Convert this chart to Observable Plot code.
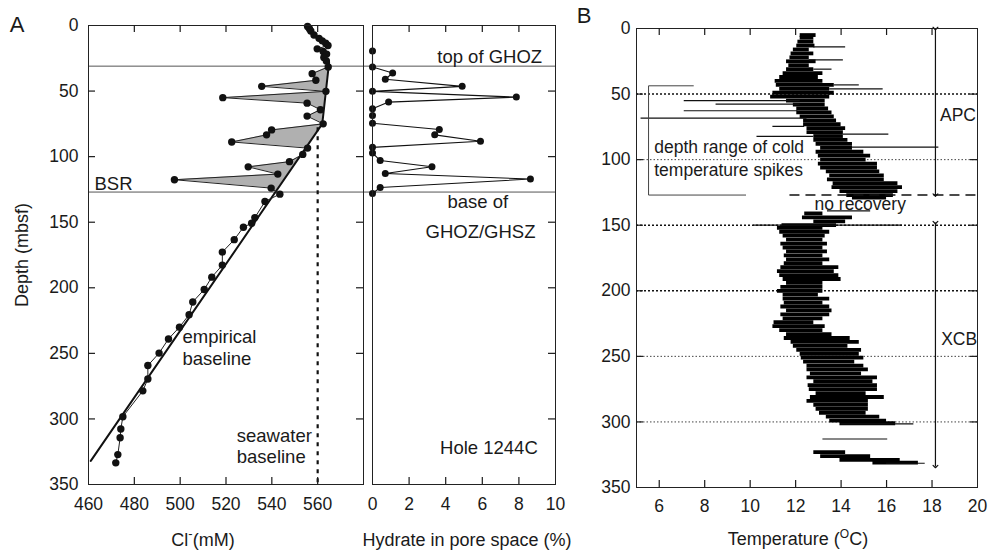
<!DOCTYPE html>
<html><head><meta charset="utf-8">
<script src="https://cdn.jsdelivr.net/npm/d3@7"></script>
<script src="https://cdn.jsdelivr.net/npm/@observablehq/plot@0.6"></script>
<style>
body{margin:0;background:#fff;}
#wrap{position:relative;width:990px;height:552px;overflow:hidden;font-family:"Liberation Sans",Arial,Helvetica,sans-serif;}
#wrap svg{position:absolute;top:0;}
</style></head><body><div id="wrap"></div>
<script>
// ---------- Panel A: chloride ----------
const clDepth = [0.8,2.5,4.2,7.2,9.8,11.7,13.5,15.2,17.8,19.8,21.8,24.4,27.0,
  31.6,36.7,41.8,46.4,50.2,55.0,59.2,64.2,69.1,75.0,79.6,83.4,88.8,93.5,98.3,103.8,107.8,113.3,117.6,124.0,128.6,
  134.2,146.5,150.8,153.8,163.3,172.8,182.7,191.9,201.3,210.8,220.5,230.0,239.0,249.8,259.3,269.5,278.6,298.3,307.7,314.4,327.2,333.5];
const clValue = [555.6,556.4,557.0,558.4,560.6,562.0,563.5,564.5,559.8,562.4,563.9,562.7,563.8,
  564.6,557.6,559.2,535.6,563.6,518.6,555.4,561.2,555.4,562.4,539.9,537.7,522.5,555.6,553.5,547.7,529.7,542.6,497.5,539.7,543.5,
  537.0,532.6,531.2,527.6,523.6,518.4,518.4,513.8,510.5,505.5,503.9,499.7,494.9,490.8,485.9,485.9,483.7,475.0,474.1,473.8,472.8,471.9];
const baseDepth = [28, 75, 332];
const baseCl = [565, 562, 461];
const seawaterCl = [560];
const seawaterDepth = [78, 350];
const ghozTop = 31, bsrDepth = 127;
const shadeRange = [31, 129];

// ---------- Hydrate panel ----------
const hydDepth = [19.4,31.6,36.2,41.0,46.4,50.2,54.6,58.4,63.5,68.6,74.5,79.3,83.4,88.3,92.9,97.2,103.0,107.7,112.8,117.1,123.5,128.1];
const hydValue = [0,0,1.1,0.7,4.9,0,7.86,0.88,0,0,0,3.65,3.4,5.9,0,0,0.42,3.25,0.7,8.63,0.42,0];

// ---------- Panel B: temperature (band edges read per depth) ----------
const tDepth = [5,7,10,13,16,19,22,25,28,31,34,37,40,43,46,49,52,55,58,61,64,67,70,73,76,79,82,85,88,91,94,97,100,103,106,109,112,115,118,121,124,127,129,
  141,144,147,150,152,155,158,161,164,167,170,173,176,179,182,185,188,191,194,197,200,203,206,209,212,215,218,221,224,227,230,233,236,239,242,245,248,251,254,257,260,263,266,269,272,275,278,281,284,287,290,293,296,299,301,
  323,326,329,331];
const tLo = [12.2,12.2,12.1,12.05,11.9,11.8,11.75,11.6,11.7,11.6,11.45,11.3,11.1,11.15,11.3,11.0,10.9,11.6,11.9,12.05,12.05,12.2,12.35,12.35,12.5,12.5,12.8,12.8,12.9,13.1,12.9,13.0,13.1,13.0,13.1,13.35,13.5,13.4,13.65,13.6,13.95,14.25,14.5,
  12.4,12.3,12.8,11.4,11.2,11.3,11.45,11.6,11.35,11.45,11.6,11.5,11.6,11.5,11.35,11.2,11.3,11.45,11.6,11.35,11.2,11.45,11.45,11.5,11.35,11.6,11.35,11.45,11.05,11.0,11.3,11.6,11.5,11.8,11.9,12.05,12.2,12.25,12.35,12.5,12.5,12.65,12.5,12.8,12.55,12.6,12.9,12.65,12.5,12.8,12.9,13.05,13.35,13.5,13.95,
  12.8,13.1,13.95,15.4];
const tHi = [12.9,12.8,12.8,12.85,12.6,12.8,12.6,12.9,12.6,12.8,13.2,13.0,13.2,13.7,13.5,13.7,13.5,13.3,13.3,13.45,13.6,13.7,13.8,14.0,14.2,14.1,14.1,14.3,14.5,14.5,15.0,15.3,15.1,15.6,15.6,15.7,15.9,15.9,16.5,16.7,16.5,16.3,16.0,
  13.2,14.5,14.2,13.8,13.2,13.5,13.3,13.2,13.4,13.2,13.4,13.2,13.5,13.2,13.9,13.7,13.9,14.0,13.2,13.2,13.2,13.0,13.5,13.2,13.5,13.6,13.5,13.2,12.8,13.3,13.2,13.6,14.4,14.8,14.3,14.9,14.8,15.0,14.6,15.0,15.2,14.9,15.6,15.4,15.6,15.6,15.1,15.9,15.2,15.2,15.2,15.1,15.7,16.0,16.4,
  14.2,15.3,16.6,17.4];
const spikeDepth = [14,24,31,43,46,55,57.7,62.7,68.3,74.7,80.5,82.3,90.5,139,150,301.5,313,331.5];
const spikeFrom  = [12.8,12.6,12.8,13.7,13.5,7.1,8.5,7.1,5.2,11.0,14.1,10.3,14.5,13.4,10.15,14.0,13.2,16.0];
const spikeTo    = [14.2,14.1,13.6,14.8,15.85,12.2,12.2,12.1,12.5,12.4,16.1,12.8,18.3,15.3,16.7,17.2,16.05,17.7];
const coreDots = [50,150,200];
const coreDotsLight = [100,250,300];
const noRecoveryDepth = 127, noRecoveryFrom = 11.75;
const arrowT = 18.15;
const apcRange = [0, 127];
const xcbRange = [148, 334];
const bracketT = [7.5, 5.53, 5.53, 9.8];
const bracketD = [43.7, 43.7, 127, 127];

// ---------- ticks ----------
const depthTicks = [0,50,100,150,200,250,300,350];
const innerDepthTicks = [50,100,150,200,250,300];
const clTicks = [460,480,500,520,540,560];
const hydTicks = [0,2,4,6,8,10];
const tempTicks = [6,8,10,12,14,16,18,20];

// ---------- annotations ----------
const annA = [
  {t:"BSR", x:462.6, y:120.7},
  {t:"empirical", x:501, y:237.7},
  {t:"baseline", x:501, y:254.2},
  {t:"seawater", x:524.7, y:312.7},
  {t:"baseline", x:524.7, y:329.3}
];
const annHEnd = [
  {t:"top of GHOZ", x:9.27, y:24},
  {t:"Hole 1244C", x:9.03, y:322.6}
];
const annHMid = [
  {t:"base of", x:5.75, y:134.9},
  {t:"GHOZ/GHSZ", x:5.9, y:157.6}
];
const annBStart = [
  {t:"depth range of cold", x:5.78, y:90.7},
  {t:"temperature spikes", x:5.78, y:108.5},
  {t:"APC", x:18.35, y:66.5},
  {t:"XCB", x:18.4, y:236.7}
];
const annBMid = [{t:"no recovery", x:14.84, y:134.4}];

// ---------- derived tables ----------
const baseAt = d3.scaleLinear().domain(baseDepth).range(baseCl);
const clRows = clDepth.map((d,i)=>({d, cl: clValue[i]}));
const shade = clRows.filter(r=>r.d>=shadeRange[0] && r.d<=shadeRange[1]).map(r=>({...r, b: baseAt(r.d)}));
const baseRows = baseDepth.map((d,i)=>({d, cl: baseCl[i]}));
const hydRows = hydDepth.map((d,i)=>({d, v: hydValue[i]}));
const tRows = tDepth.map((d,i)=>({d, lo:tLo[i], hi:tHi[i]}));
const spikes = spikeDepth.map((d,i)=>({d, a:spikeFrom[i], b:spikeTo[i]}));
const bracket = bracketT.map((t,i)=>({t, d: bracketD[i]}));

const font = '"Liberation Sans", Arial, Helvetica, sans-serif';
const style = {fontFamily: font, fontSize: "17.5px", color: "#1a1a1a", background: "transparent", overflow: "visible"};
const TICK = 7; // px, inward frame ticks
function frameTicks(xt, xDom, yDom, fw, fh, left, right) {
  const ly = TICK * (yDom[1]-yDom[0]) / fh, lx = TICK * (xDom[1]-xDom[0]) / fw;
  const o = {stroke:"#1a1a1a", strokeWidth: 1.2};
  const m = [
    Plot.ruleX(xt, {y1: yDom[1], y2: yDom[1]-ly, ...o}),
    Plot.ruleX(xt, {y1: yDom[0], y2: yDom[0]+ly, ...o})];
  if (left) m.push(Plot.ruleY(innerDepthTicks, {x1: xDom[0], x2: xDom[0]+lx, ...o}));
  if (right) m.push(Plot.ruleY(innerDepthTicks, {x1: xDom[1], x2: xDom[1]-lx, ...o}));
  return m;
}

const wrap = document.getElementById("wrap");
const yDom = [0, 350];

// Panel A
const AxDom = [460, 580];
const A = Plot.plot({
  width: 372, height: 552, marginLeft: 88, marginRight: 9, marginTop: 25, marginBottom: 68,
  x: {domain: AxDom}, y: {domain: yDom, reverse: true}, style,
  marks: [
    Plot.areaX(shade, {y:"d", x1:"cl", x2:"b", fill:"#b0b0b0"}),
    Plot.ruleY([ghozTop, bsrDepth], {x1: 460, x2: 584, stroke:"#555", strokeWidth: 1}),
    Plot.ruleX(seawaterCl, {y1: seawaterDepth[0], y2: seawaterDepth[1], stroke:"#111", strokeWidth: 2.2, strokeDasharray:"4,5"}),
    Plot.line(baseRows, {x:"cl", y:"d", stroke:"#111", strokeWidth: 2}),
    Plot.line(clRows, {x:"cl", y:"d", stroke:"#222", strokeWidth: 1}),
    Plot.dot(clRows, {x:"cl", y:"d", r: 3.7, fill:"#111", stroke:"none"}),
    Plot.frame({stroke:"#222"}),
    ...frameTicks(clTicks.slice(1), AxDom, yDom, 275, 459, true, true),
    Plot.axisX(clTicks, {anchor:"bottom", tickSize:0, tickPadding:13, label:null}),
    Plot.axisY(depthTicks, {anchor:"left", tickSize:0, tickPadding:10, label:null}),
    Plot.text(annA, {x:"x", y:"y", text:"t", textAnchor:"start", fontSize:18.5, fill:"#1a1a1a"})
  ]
});
A.style.left = "0px"; wrap.appendChild(A);

// Hydrate panel
const HxDom = [0, 10];
const H = Plot.plot({
  width: 200, height: 552, marginLeft: 9, marginRight: 8, marginTop: 25, marginBottom: 68,
  x: {domain: HxDom}, y: {domain: yDom, reverse: true, axis: null}, style,
  marks: [
    Plot.ruleY([ghozTop, bsrDepth], {stroke:"#555", strokeWidth: 1}),
    Plot.line(hydRows, {x:"v", y:"d", stroke:"#111", strokeWidth: 1.1}),
    Plot.dot(hydRows, {x:"v", y:"d", r: 3.5, fill:"#111", stroke:"none"}),
    Plot.frame({stroke:"#222"}),
    ...frameTicks(hydTicks.slice(1,-1), HxDom, yDom, 183, 459, false, true),
    Plot.axisX(hydTicks, {anchor:"bottom", tickSize:0, tickPadding:13, label:null}),
    Plot.text(annHEnd, {x:"x", y:"y", text:"t", textAnchor:"end", fontSize:18.5, fill:"#1a1a1a"}),
    Plot.text(annHMid, {x:"x", y:"y", text:"t", textAnchor:"middle", fontSize:18.5, fill:"#1a1a1a"})
  ]
});
H.style.left = "363px"; wrap.appendChild(H);

// Panel B
const BxDom = [5, 20];
const B = Plot.plot({
  width: 420, height: 552, marginLeft: 66, marginRight: 13, marginTop: 28, marginBottom: 65,
  x: {domain: BxDom}, y: {domain: yDom, reverse: true}, style,
  marks: [
    Plot.ruleY(coreDots, {stroke:"#111", strokeWidth: 1.4, strokeDasharray:"2,2"}),
    Plot.ruleY(coreDotsLight, {stroke:"#444", strokeWidth: 1, strokeDasharray:"1.5,2"}),
    Plot.ruleY(tRows, {y:"d", x1:"lo", x2:"hi", stroke:"#000", strokeWidth: 3.8}),
    Plot.ruleY(spikes, {y:"d", x1:"a", x2:"b", stroke:"#111", strokeWidth: 1.2}),
    Plot.ruleY([noRecoveryDepth], {x1: noRecoveryFrom, x2: 20, stroke:"#111", strokeWidth: 1.6, strokeDasharray:"10,6"}),
    Plot.line(bracket, {x:"t", y:"d", stroke:"#444", strokeWidth: 1}),
    Plot.link([{y1: apcRange[0], y2: apcRange[1]}, {y1: xcbRange[0], y2: xcbRange[1]}], {x1: arrowT, x2: arrowT, y1:"y1", y2:"y2", stroke:"#111", strokeWidth: 1.2, markerStart:"arrow", markerEnd:"arrow"}),
    Plot.frame({stroke:"#222"}),
    ...frameTicks(tempTicks.slice(0,-1), BxDom, yDom, 341, 459, true, true),
    Plot.axisX(tempTicks, {anchor:"bottom", tickSize:0, tickPadding:12, label:null}),
    Plot.axisY(depthTicks, {anchor:"left", tickSize:0, tickPadding:6, label:null}),
    Plot.text(annBStart, {x:"x", y:"y", text:"t", textAnchor:"start", fontSize:17.5, fill:"#1a1a1a"}),
    Plot.text(annBMid, {x:"x", y:"y", text:"t", textAnchor:"middle", fontSize:17.5, fill:"#1a1a1a"})
  ]
});
B.style.left = "570px"; wrap.appendChild(B);

// Titles overlay
const NS = "http://www.w3.org/2000/svg";
const ov = document.createElementNS(NS, "svg");
ov.setAttribute("width", 990); ov.setAttribute("height", 552);
ov.style.left = "0px"; ov.style.pointerEvents = "none";
ov.setAttribute("font-family", font);
ov.innerHTML = `
<text x="17" y="32" font-size="22" text-anchor="middle" fill="#1a1a1a">A</text>
<text x="584" y="23" font-size="22" text-anchor="middle" fill="#1a1a1a">B</text>
<text transform="translate(28,255) rotate(-90)" font-size="18" text-anchor="middle" fill="#1a1a1a">Depth (mbsf)</text>
<text x="203" y="546" font-size="18" text-anchor="middle" fill="#1a1a1a">Cl<tspan dy="-8" font-size="13">-</tspan><tspan dy="8">(mM)</tspan></text>
<text x="467" y="546" font-size="18" text-anchor="middle" fill="#1a1a1a">Hydrate in pore space (%)</text>
<text x="798" y="545" font-size="18" text-anchor="middle" fill="#1a1a1a">Temperature (<tspan dy="-7" font-size="12">O</tspan><tspan dy="7">C)</tspan></text>`;
wrap.appendChild(ov);
</script></body></html>
